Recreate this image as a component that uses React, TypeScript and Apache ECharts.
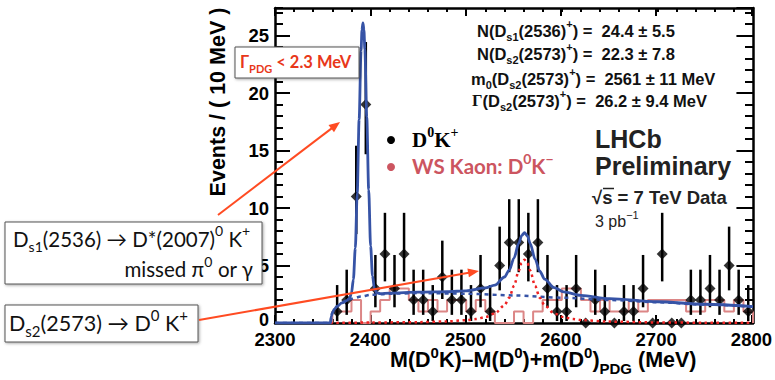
import React, { useEffect, useRef } from 'react';
import * as echarts from 'echarts';

// ---------- data ----------
const binCenters = [
  2365, 2375, 2385, 2395, 2405, 2415, 2425, 2435, 2445, 2455,
  2465, 2475, 2485, 2495, 2505, 2515, 2525, 2535, 2545, 2555,
  2565, 2575, 2585, 2595, 2605, 2615, 2625, 2635, 2645, 2655,
  2665, 2675, 2685, 2695, 2705, 2715, 2725, 2735, 2745, 2755,
  2765, 2775, 2785, 2795,
];
const counts = [
  1, 2, 11, 19, 3, 6, 3, 6, 2, 2,
  1, 4, 2, 2, 1, 3, 1, 5, 7, 7,
  6, 7, 3, 1, 1, 3, 0, 2, 1, 0,
  1, 1, 3, 0, 6, 0, 0, 2, 2, 3,
  2, 5, 2, 1,
];
// Poisson 68% interval (Garwood) for n = 0..20
const poissonLow = [0, 0.173, 0.708, 1.367, 2.086, 2.84, 3.62, 4.419, 5.232, 6.057, 6.891, 7.734, 8.585, 9.441, 10.3, 11.17, 12.04, 12.92, 13.8, 14.68, 15.57];
const poissonHigh = [1.841, 3.3, 4.638, 5.918, 7.163, 8.382, 9.584, 10.77, 11.95, 13.11, 14.27, 15.42, 16.56, 17.7, 18.83, 19.96, 21.08, 22.2, 23.32, 24.44, 25.55];

// wrong-sign histogram: bin low edges and contents
const wsEdges = [
  2360, 2370, 2380, 2390, 2400, 2410, 2420, 2430, 2440, 2450,
  2460, 2470, 2480, 2490, 2500, 2510, 2520, 2530, 2540, 2550,
  2560, 2570, 2580, 2590, 2600, 2610, 2620, 2630, 2640, 2650,
  2660, 2670, 2680, 2690, 2700, 2710, 2720, 2730, 2740, 2750,
  2760, 2770, 2780, 2790, 2800,
];
const wsValues = [
  1, 1, 2, 0, 1, 2, 3, 3, 2, 1,
  2, 1, 2, 2, 1, 2, 1, 0, 0, 1,
  0, 1, 2, 2, 3, 3, 2, 1, 2, 1,
  1, 2, 1, 2, 2, 2, 2, 1, 1, 2,
  2, 1, 2, 1,
];

// fit curves (mass, value)
const fitTotal = [
  [2300, 0], [2358, 0], [2359, 0.6], [2360, 0.9], [2362, 1.2], [2365, 1.45], [2370, 1.75], [2375, 1.95],
  [2378, 2.15], [2380, 2.6], [2382, 3.8], [2384, 6.5], [2386, 11.3], [2388, 17.7], [2390, 23.7], [2391, 25.5],
  [2392, 26.1], [2393, 25.5], [2394, 23.8], [2396, 17.9], [2398, 11.6], [2400, 6.7], [2402, 4.1], [2404, 3.0],
  [2406, 2.65], [2410, 2.55], [2420, 2.6], [2450, 2.68], [2480, 2.72], [2500, 2.8], [2520, 3.05], [2530, 3.3],
  [2540, 4.0], [2545, 4.6], [2550, 5.65], [2555, 6.95], [2558, 7.6], [2561, 7.86], [2564, 7.58], [2567, 6.9],
  [2572, 5.56], [2577, 4.5], [2582, 3.82], [2592, 3.07], [2602, 2.71], [2620, 2.4], [2650, 2.12], [2700, 1.85],
  [2750, 1.63], [2800, 1.43],
];
const fitBackground = [
  [2300, 0], [2358, 0], [2359, 0.6], [2360, 0.9], [2362, 1.2], [2365, 1.45], [2370, 1.75], [2375, 1.95],
  [2380, 2.1], [2390, 2.3], [2400, 2.45], [2420, 2.55], [2450, 2.6], [2500, 2.55], [2550, 2.4], [2600, 2.2],
  [2650, 2.0], [2700, 1.8], [2750, 1.6], [2800, 1.42],
];
const fitDs2Signal = [
  [2358, 0], [2400, 0.04], [2450, 0.075], [2480, 0.14], [2500, 0.24], [2510, 0.34], [2520, 0.51], [2530, 0.83],
  [2540, 1.54], [2545, 2.2], [2550, 3.23], [2555, 4.55], [2558, 5.23], [2561, 5.5], [2564, 5.23], [2567, 4.55],
  [2572, 3.23], [2577, 2.2], [2582, 1.54], [2592, 0.83], [2602, 0.51], [2612, 0.34], [2620, 0.26], [2650, 0.12],
  [2700, 0.05], [2750, 0.026], [2800, 0.017],
];

const xTicks = { min: 2300, max: 2800 };
const yRange = { min: 0, max: 27.4 };

// ---------- styling ----------
const HELV = 'Liberation Sans';
const GILL = 'Lato';
const BLUE = '#3653a6';
const RED = '#ee2222';
const PINK = '#dc8686';
const ORANGE = '#ff4b22';

function richStyles(F: number, family: string, weight: string, color: string) {
  const L = Math.round(F * 1.45);
  const s = Math.round(F * 0.68);
  const base = { fontFamily: family, fontWeight: weight, fill: color, color };
  return {
    m: { ...base, fontSize: F, lineHeight: L, verticalAlign: 'middle' },
    sub: { ...base, fontSize: s, lineHeight: s, verticalAlign: 'bottom' },
    sup: { ...base, fontSize: s, lineHeight: s, verticalAlign: 'top' },
    g: { ...base, fontSize: F, lineHeight: L, verticalAlign: 'middle', fontFamily: 'Liberation Serif' },
  };
}

function richText(x: number, y: number, text: string, F: number, family: string, weight: string, color: string, align = 'left', extra: any = {}) {
  return {
    type: 'text', x, y, z: 100, ...extra,
    style: {
      text, rich: richStyles(F, family, weight, color),
      fill: color, fontSize: F, fontFamily: family, fontWeight: weight,
      textAlign: align, align, textVerticalAlign: 'middle', verticalAlign: 'middle',
    },
  };
}

function plainText(x: number, y: number, text: string, F: number, weight: string, color: string, align = 'left') {
  return {
    type: 'text', x, y, z: 100,
    style: {
      text, fontSize: F, fontWeight: weight, fontFamily: HELV, fill: color, lineHeight: Math.round(F * 0.8),
      textAlign: align, align, textVerticalAlign: 'middle', verticalAlign: 'middle',
    },
  };
}

function arrow(x1: number, y1: number, x2: number, y2: number) {
  const dx = x2 - x1, dy = y2 - y1;
  const d = Math.hypot(dx, dy);
  const ux = dx / d, uy = dy / d;
  const len = 11, half = 4.5;
  const bx = x2 - ux * len, by = y2 - uy * len;
  return [
    { type: 'line', z: 110, shape: { x1, y1, x2: x2 - ux * 6, y2: y2 - uy * 6 }, style: { stroke: ORANGE, lineWidth: 2 } },
    {
      type: 'polygon', z: 110,
      shape: { points: [[x2, y2], [bx - uy * half, by + ux * half], [bx + uy * half, by - ux * half]] },
      style: { fill: ORANGE },
    },
  ];
}

function box(x: number, y: number, w: number, h: number) {
  return {
    type: 'rect', z: 95, shape: { x, y, width: w, height: h },
    style: { fill: '#fff', stroke: '#555', lineWidth: 1, shadowBlur: 3, shadowColor: 'rgba(0,0,0,0.35)', shadowOffsetX: 1, shadowOffsetY: 1 },
  };
}

export default function App() {
  const ref = useRef<HTMLDivElement>(null);

  useEffect(() => {
    if (!ref.current) return;
    const chart = echarts.init(ref.current, undefined, { renderer: 'svg' });

    const gridRect = { left: 275, right: 22, top: 8, bottom: 57 };
    const tickStyle = { color: '#000', width: 2 };
    const labelStyle = { fontSize: 18.5, fontWeight: 700, fontFamily: HELV, color: '#000', lineHeight: 14 };

    const xMinor = (pos: string, gridIndex: number) => ({
      type: 'value', gridIndex, position: pos, min: xTicks.min, max: xTicks.max, interval: 20,
      axisLine: { show: true, onZero: false, lineStyle: { color: '#000', width: 2.5 } },
      axisTick: { show: true, inside: true, length: 4, lineStyle: tickStyle },
      axisLabel: { show: false }, splitLine: { show: false },
    });
    const xMajor = (pos: string, gridIndex: number, labels: boolean) => ({
      type: 'value', gridIndex, position: pos, min: xTicks.min, max: xTicks.max, interval: 100,
      axisLine: { show: false, onZero: false },
      axisTick: { show: true, inside: true, length: 8, lineStyle: tickStyle },
      axisLabel: { show: labels, margin: 9, ...labelStyle, formatter: (v: number) => String(v) },
      splitLine: { show: false },
    });
    const yMinor = (pos: string, gridIndex: number) => ({
      type: 'value', gridIndex, position: pos, min: yRange.min, max: yRange.max, interval: 1,
      axisLine: { show: true, onZero: false, lineStyle: { color: '#000', width: 2.5 } },
      axisTick: { show: true, inside: true, length: 8, lineStyle: tickStyle },
      axisLabel: { show: false }, splitLine: { show: false },
    });
    const yMajor = (pos: string, gridIndex: number, labels: boolean) => ({
      type: 'value', gridIndex, position: pos, min: yRange.min, max: yRange.max, interval: 5,
      axisLine: { show: false, onZero: false },
      axisTick: { show: true, inside: true, length: 15, lineStyle: tickStyle },
      axisLabel: {
        show: labels, margin: 6, showMaxLabel: false, showMinLabel: false, ...labelStyle,
        formatter: (v: number) => (v % 5 === 0 && v > 0 ? String(v) : ''),
      },
      splitLine: { show: false },
    });

    const errData = binCenters
      .map((m, i) => [m, poissonLow[counts[i]], poissonHigh[counts[i]], counts[i]])
      .filter((d) => d[3] > 0);

    const wsLine: number[][] = [[wsEdges[0], 0]];
    wsValues.forEach((v, i) => wsLine.push([wsEdges[i], v]));
    wsLine.push([wsEdges[wsEdges.length - 1], wsValues[wsValues.length - 1]]);
    wsLine.push([wsEdges[wsEdges.length - 1], 0]);

    const graphics: any[] = [
      // y-axis zero label (placed by hand so it does not collide with the 2300 label)
      plainText(269, 319.5, '0', 18, 'bold', '#000', 'right'),
      // axis titles
      {
        type: 'text', x: 218, y: 102, rotation: Math.PI / 2, z: 90,
        style: {
          text: 'Events / ( 10 MeV )', fontSize: 21.5, fontWeight: 'bold', fontFamily: HELV, fill: '#000',
          textAlign: 'center', align: 'center', textVerticalAlign: 'middle', verticalAlign: 'middle',
        },
      },
      richText(390, 360, '{m|M(D}{sup|0}{m|K)–M(D}{sup|0}{m|)+m(D}{sup|0}{m|)}{sub|PDG}{m| (MeV)}', 21.5, HELV, 'bold', '#000'),
      // fit results
      richText(477, 30.5, '{m|N(D}{sub|s1}{m|(2536)}{sup|+}{m|) =  24.4 ± 5.5}', 16.5, HELV, 'bold', '#111'),
      richText(477, 53.5, '{m|N(D}{sub|s2}{m|(2573)}{sup|+}{m|) =  22.3 ± 7.8}', 16.5, HELV, 'bold', '#111'),
      richText(471, 78.5, '{m|m}{sub|0}{m|(D}{sub|s2}{m|(2573)}{sup|+}{m|) =  2561 ± 11 MeV}', 16.5, HELV, 'bold', '#111'),
      richText(472, 100.5, '{g|Γ}{m|(D}{sub|s2}{m|(2573)}{sup|+}{m|) =  26.2 ± 9.4 MeV}', 16.5, HELV, 'bold', '#111'),
      // legend
      { type: 'circle', z: 100, shape: { cx: 391, cy: 140, r: 4 }, style: { fill: '#000' } },
      richText(412, 140, '{m|D}{sup|0}{m|K}{sup|+}', 21, 'Liberation Serif', 'bold', '#000'),
      { type: 'circle', z: 100, shape: { cx: 391, cy: 167, r: 4 }, style: { fill: '#cc5560' } },
      richText(412, 166, '{m|WS Kaon: D}{sup|0}{m|K}{sup|−}', 20.5, GILL, 'bold', '#cc5560'),
      // LHCb label
      plainText(595, 139, 'LHCb', 25, 'bold', '#222'),
      plainText(595, 166, 'Preliminary', 25, 'bold', '#222'),
      plainText(592, 197.5, '√s = 7 TeV Data', 18.5, 'bold', '#222'),
      { type: 'line', z: 100, shape: { x1: 603, y1: 188.5, x2: 614, y2: 188.5 }, style: { stroke: '#222', lineWidth: 1.5 } },
      richText(595, 221, '{m|3 pb}{sup|−1}', 16, HELV, 'normal', '#222'),
      // annotation boxes
      box(235, 47, 124, 31),
      richText(240, 62, '{m|Γ}{sub|PDG}{m| < 2.3 MeV}', 16.5, GILL, 'bold', '#e8371a'),
      box(5, 222, 257, 62),
      richText(13, 238.5, '{m|D}{sub|s1}{m|(2536) → D*(2007)}{sup|0}{m| K}{sup|+}', 20.5, GILL, 'normal', '#111'),
      richText(253, 269, '{m|missed π}{sup|0}{m| or γ}', 20.5, GILL, 'normal', '#111', 'right'),
      box(5, 305, 193, 37),
      richText(9, 323, '{m|D}{sub|s2}{m|(2573) → D}{sup|0}{m| K}{sup|+}', 21.5, GILL, 'normal', '#111'),
      ...arrow(218, 215, 340, 122),
      ...arrow(199, 320, 479, 271),
    ];

    chart.setOption({
      animation: false,
      backgroundColor: '#fff',
      grid: [
        { ...gridRect, containLabel: false },
        { ...gridRect, containLabel: false },
      ],
      xAxis: [xMinor('bottom', 0), xMinor('top', 0), xMajor('bottom', 1, true), xMajor('top', 1, false)],
      yAxis: [yMinor('left', 0), yMinor('right', 0), yMajor('left', 1, true), yMajor('right', 1, false)],
      series: [
        {
          name: 'WS', type: 'line', xAxisIndex: 0, yAxisIndex: 0, data: wsLine, step: 'end',
          symbol: 'none', lineStyle: { color: PINK, width: 2 }, z: 2, silent: true,
        },
        {
          name: 'errors', type: 'custom', xAxisIndex: 0, yAxisIndex: 0, data: errData, z: 3, silent: true,
          encode: { x: 0, y: [1, 2] },
          renderItem: (_p: any, api: any) => {
            const a = api.coord([api.value(0), api.value(1)]);
            const b = api.coord([api.value(0), api.value(2)]);
            return { type: 'line', shape: { x1: a[0], y1: a[1], x2: b[0], y2: b[1] }, style: { stroke: '#000', lineWidth: 2.5 } };
          },
        },
        {
          name: 'data', type: 'scatter', xAxisIndex: 0, yAxisIndex: 0, clip: false, z: 4,
          data: binCenters.map((m, i) => [m, counts[i]]),
          symbol: 'diamond', symbolSize: 11, itemStyle: { color: '#000' }, silent: true,
        },
        {
          name: 'bkg', type: 'line', xAxisIndex: 0, yAxisIndex: 0, data: fitBackground, symbol: 'none',
          smooth: 0.3, smoothMonotone: 'x', lineStyle: { color: BLUE, width: 2.5, type: [4, 4] }, z: 5, silent: true,
        },
        {
          name: 'ds2', type: 'line', xAxisIndex: 0, yAxisIndex: 0, data: fitDs2Signal, symbol: 'none',
          smooth: 0.3, smoothMonotone: 'x', lineStyle: { color: RED, width: 2.5, type: [2.5, 3.5] }, z: 6, silent: true,
        },
        {
          name: 'total', type: 'line', xAxisIndex: 0, yAxisIndex: 0, data: fitTotal, symbol: 'none',
          smooth: 0.3, smoothMonotone: 'x', lineStyle: { color: BLUE, width: 2.8 }, z: 7, silent: true,
        },
      ],
      graphic: graphics,
    });

    return () => chart.dispose();
  }, []);

  return <div ref={ref} style={{ position: 'fixed', left: 0, top: 0, width: 775, height: 380, background: '#fff' }} />;
}
